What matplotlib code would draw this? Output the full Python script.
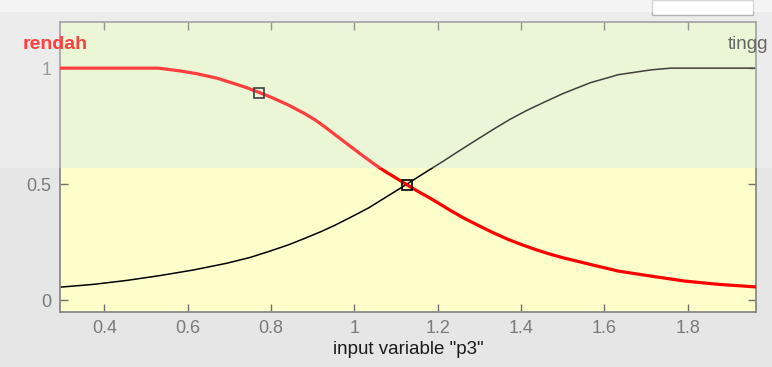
import matplotlib
matplotlib.use("Agg")
import matplotlib.pyplot as plt
from matplotlib.patches import Rectangle

# membership function "rendah"
rendah_x = [0.294, 0.530, 0.582, 0.622, 0.670, 0.709, 0.740, 0.772, 0.800, 0.842,
            0.880, 0.906, 0.930, 0.954, 0.990, 1.018, 1.050, 1.074, 1.100, 1.126,
            1.155, 1.182, 1.210, 1.230, 1.260, 1.294, 1.330, 1.366, 1.400, 1.438,
            1.470, 1.502, 1.566, 1.634, 1.714, 1.794, 1.874, 1.964]
rendah_y = [1.0, 1.0, 0.988, 0.976, 0.957, 0.935, 0.917, 0.895, 0.875, 0.841,
            0.805, 0.777, 0.746, 0.713, 0.664, 0.626, 0.584, 0.555, 0.527, 0.498,
            0.467, 0.440, 0.410, 0.388, 0.357, 0.326, 0.294, 0.265, 0.241, 0.217,
            0.199, 0.183, 0.155, 0.126, 0.104, 0.083, 0.069, 0.058]

# membership function "tinggi"
tinggi_x = [0.294, 0.374, 0.454, 0.534, 0.614, 0.694, 0.750, 0.794, 0.840, 0.874,
            0.920, 0.954, 1.000, 1.034, 1.070, 1.114, 1.150, 1.180, 1.214, 1.250,
            1.294, 1.334, 1.374, 1.414, 1.454, 1.500, 1.566, 1.634, 1.714, 1.760,
            1.964]
tinggi_y = [0.057, 0.069, 0.086, 0.107, 0.131, 0.160, 0.185, 0.210, 0.238, 0.262,
            0.296, 0.324, 0.366, 0.398, 0.438, 0.487, 0.528, 0.562, 0.600, 0.642,
            0.692, 0.737, 0.780, 0.818, 0.852, 0.890, 0.937, 0.972, 0.993, 1.0,
            1.0]

# square handles on the selected function
handle_x = [0.772, 1.126]
handle_y = [0.895, 0.498]

xticks = [0.4, 0.6, 0.8, 1.0, 1.2, 1.4, 1.6, 1.8]
xticklabels = ["0.4", "0.6", "0.8", "1", "1.2", "1.4", "1.6", "1.8"]
yticks = [0, 0.5, 1]
yticklabels = ["0", "0.5", "1"]

plt.rcParams["font.family"] = ["Liberation Sans", "DejaVu Sans"]

W, H = 772, 367
fig = plt.figure(figsize=(W / 100, H / 100), dpi=100, facecolor="#e6e6e6")
ax = fig.add_axes([60 / W, 1 - 312 / H, 696 / W, 290.3 / H])
ax.set_facecolor("#ffffcc")

ax.set_xlim(0.2936, 1.964)
ax.set_ylim(-0.05, 1.2)

# tinted band (watermark) behind the curves
ax.axhspan(0.570, 1.25, color="#e3f3c8", zorder=0, lw=0)

ax.plot(tinggi_x, tinggi_y, color="black", lw=1.1, zorder=2)
ax.plot(rendah_x, rendah_y, color="red", lw=2.3, zorder=3)
ax.plot(handle_x, handle_y, ls="none", marker="s", ms=7.5, mfc="none",
        mec="black", mew=1.2, zorder=4)

ax.set_xticks(xticks)
ax.set_xticklabels(xticklabels)
ax.set_yticks(yticks)
ax.set_yticklabels(yticklabels)
ax.tick_params(direction="in", length=6, width=1, color="#707070",
               labelcolor="#7a7a7a", labelsize=13,
               top=True, right=True, pad=6)
for s in ax.spines.values():
    s.set_color("#8a8a8a")
    s.set_linewidth(1.3)

ax.set_xlabel('input variable "p3"', fontsize=13.5, color="#1a1a1a", labelpad=3)

ax.text(0.205, 1.10, "rendah", color="red", fontsize=14, fontweight="bold",
        ha="left", va="center", clip_on=False)
# label of the second function, cut by the window edge in the original
ax.text(1.897, 1.10, "tingg", color="#333333", fontsize=13.5,
        ha="left", va="center", clip_on=False)

# small ui box at the top right
fig.patches.append(Rectangle((652 / W, 1 - 15 / H), 101 / W, 15 / H,
                             transform=fig.transFigure, facecolor="white",
                             edgecolor="#9a9a9a", lw=1, zorder=5))
# washed-out upper part (watermark)
fig.patches.append(Rectangle((0, 1 - 168 / H), 1, 168 / H,
                             transform=fig.transFigure, facecolor="white",
                             alpha=0.25, lw=0, zorder=10))
fig.patches.append(Rectangle((0, 1 - 12 / H), 1, 12 / H,
                             transform=fig.transFigure, facecolor="white",
                             alpha=0.45, lw=0, zorder=11))

fig.savefig("out.png", dpi=100, facecolor=fig.get_facecolor())
